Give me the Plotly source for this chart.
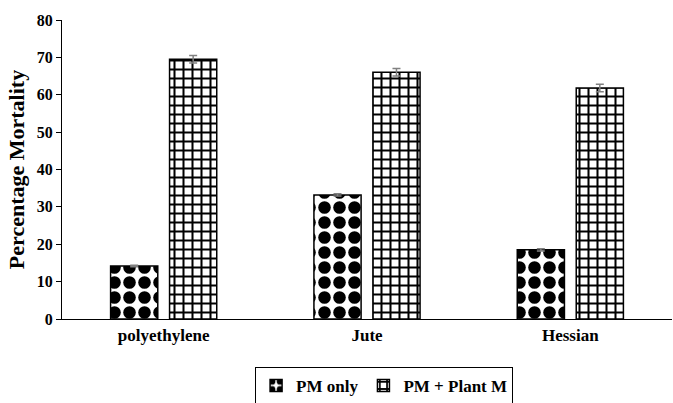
import plotly.graph_objects as go

categories = ["polyethylene", "Jute", "Hessian"]
pm_only = [14.2, 33.2, 18.5]
pm_only_err = [0.2, 0.3, 0.3]
pm_plant = [69.5, 66.0, 61.8]
pm_plant_err = [1.0, 1.0, 1.0]
series_names = ["PM only", "PM + Plant M"]
y_ticks = [0, 10, 20, 30, 40, 50, 60, 70, 80]

FONT = "Liberation Serif"

fig = go.Figure()
fig.add_trace(go.Bar(
    x=categories, y=pm_only, name=series_names[0],
    marker=dict(color="white", line=dict(color="black", width=1.5),
                pattern=dict(shape=".", fgcolor="black", bgcolor="white",
                             fgopacity=1, size=15, solidity=0.55)),
    error_y=dict(type="data", array=pm_only_err, color="#808080",
                 thickness=1.5, width=4),
))
fig.add_trace(go.Bar(
    x=categories, y=pm_plant, name=series_names[1],
    marker=dict(color="white", line=dict(color="black", width=1.5),
                pattern=dict(shape="+", fgcolor="black", bgcolor="white",
                             fgopacity=1, size=9, solidity=0.4)),
    error_y=dict(type="data", array=pm_plant_err, color="#808080",
                 thickness=1.5, width=4),
))

fig.update_layout(
    width=673, height=403,
    margin=dict(l=62, r=1, t=20, b=84, autoexpand=False),
    paper_bgcolor="white", plot_bgcolor="white",
    barmode="group", bargap=0.42, bargroupgap=0.2,
    font=dict(family=FONT, color="black", size=14, weight="bold"),
    showlegend=True,
    legend=dict(orientation="h", x=0.528, xanchor="center", y=-0.16,
                yanchor="top", bordercolor="black", borderwidth=1,
                font=dict(family=FONT, size=17, weight="bold"),
                itemwidth=30),
)
fig.update_xaxes(showline=True, linecolor="black", linewidth=1.2,
                 ticks="", showgrid=False,
                 tickfont=dict(family=FONT, size=17, weight="bold"))
fig.update_yaxes(range=[0, 80], tickvals=y_ticks, showline=True,
                 linecolor="black", linewidth=1.2, ticks="outside",
                 ticklen=5, tickcolor="black", showgrid=False, zeroline=False,
                 automargin=False,
                 tickfont=dict(family=FONT, size=16, weight="bold"),
                 title=dict(text="Percentage Mortality", standoff=6,
                            font=dict(family=FONT, size=22, weight="bold")))

fig.write_html("out.html", config={"displayModeBar": False},
               post_script="document.body.style.margin='0';document.body.style.overflow='hidden';")
